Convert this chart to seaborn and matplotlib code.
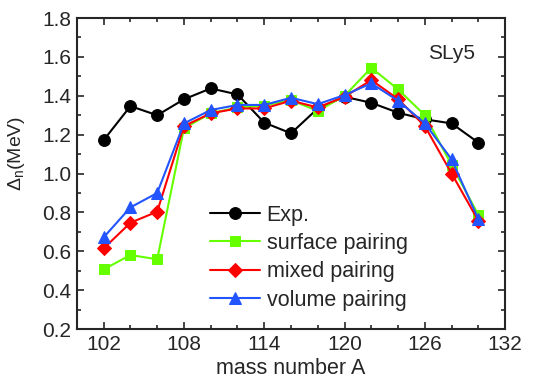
import matplotlib
matplotlib.use("Agg")
import matplotlib.pyplot as plt
import seaborn as sns
import pandas as pd
from matplotlib.ticker import MultipleLocator

mass = [102, 104, 106, 108, 110, 112, 114, 116, 118, 120, 122, 124, 126, 128, 130]
exp_vals = [1.172, 1.347, 1.30, 1.382, 1.438, 1.407, 1.262, 1.207, 1.335, 1.395, 1.364, 1.313, 1.279, 1.258, 1.159]
surface = [0.507, 0.581, 0.559, 1.233, 1.31, 1.34, 1.35, 1.378, 1.322, 1.40, 1.544, 1.433, 1.30, 1.044, 0.787]
mixed = [0.615, 0.747, 0.804, 1.244, 1.31, 1.335, 1.335, 1.375, 1.34, 1.395, 1.481, 1.383, 1.244, 1.00, 0.757]
volume = [0.672, 0.826, 0.90, 1.258, 1.327, 1.353, 1.353, 1.39, 1.357, 1.404, 1.464, 1.375, 1.258, 1.073, 0.765]

series_names = ["Exp.", "surface pairing", "mixed pairing", "volume pairing"]
series_vals = [exp_vals, surface, mixed, volume]
colors = ["#000000", "#66ff00", "#ff0000", "#2255ff"]
markers = ["o", "s", "D", "^"]
msizes = [8.5, 7, 7, 8.5]

sns.set_style("ticks")
plt.rcParams["font.family"] = ["Liberation Sans", "DejaVu Sans"]
plt.rcParams["mathtext.fontset"] = "custom"
plt.rcParams["mathtext.rm"] = "Liberation Sans"
plt.rcParams["mathtext.it"] = "Liberation Sans"

rows = []
for name, vals in zip(series_names, series_vals):
    for m, v in zip(mass, vals):
        rows.append({"A": m, "val": v, "series": name})
df = pd.DataFrame(rows)

fig = plt.figure(figsize=(5.34, 3.84), dpi=100)
ax = fig.add_axes([0.144, 0.143, 0.802, 0.810])

for name, c, mk, ms in zip(series_names, colors, markers, msizes):
    sub = df[df["series"] == name]
    sns.lineplot(data=sub, x="A", y="val", ax=ax, color=c, marker=mk,
                 markersize=ms, markeredgecolor=c, markerfacecolor=c,
                 linewidth=1.5, label=name, sort=False)

ax.set_xlim(100, 132)
ax.set_ylim(0.2, 1.8)
ax.xaxis.set_major_locator(MultipleLocator(6))
ax.xaxis.set_minor_locator(MultipleLocator(2))
ax.yaxis.set_major_locator(MultipleLocator(0.2))
ax.yaxis.set_minor_locator(MultipleLocator(0.1))
ax.set_xticks([102, 108, 114, 120, 126, 132])
ax.set_yticks([0.2, 0.4, 0.6, 0.8, 1.0, 1.2, 1.4, 1.6, 1.8])
ax.set_yticklabels([f"{t:.1f}" for t in ax.get_yticks()])
ax.tick_params(which="both", direction="in", top=True, right=True, width=1.2, labelsize=15)
ax.tick_params(which="major", length=5, pad=4)
ax.tick_params(which="minor", length=3)
for s in ax.spines.values():
    s.set_linewidth(1.5)

ax.set_xlabel("mass number A", fontsize=15.5, labelpad=3)
ax.set_ylabel(r"$\Delta_\mathrm{n}$(MeV)", fontsize=14)
ax.yaxis.set_label_coords(-0.117, 0.565)
ax.text(0.93, 0.887, "SLy5", transform=ax.transAxes, fontsize=15, ha="right", va="center")

leg = ax.legend(loc="upper left", bbox_to_anchor=(0.311, 0.40), frameon=False,
                fontsize=15.5, handlelength=2.3, handletextpad=0.33, labelspacing=0.34,
                borderpad=0, borderaxespad=0)

fig.savefig("out.png", dpi=100)
